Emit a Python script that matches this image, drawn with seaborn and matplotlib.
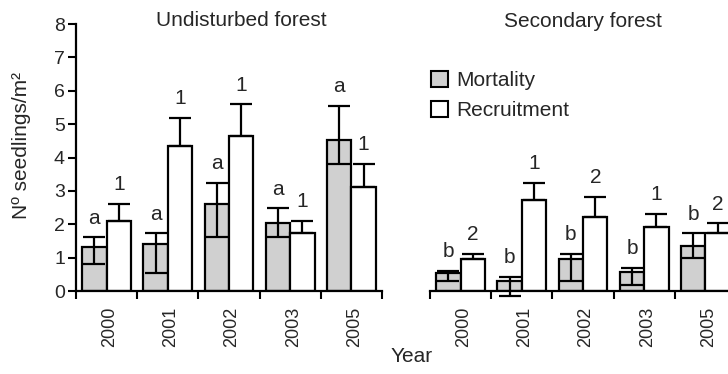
import numpy as np
import pandas as pd
import matplotlib
matplotlib.use("Agg")
import matplotlib.pyplot as plt
import seaborn as sns
from matplotlib.patches import Patch

# ---------------------------------------------------------------
# Data
# ---------------------------------------------------------------
years = ["2000", "2001", "2002", "2003", "2005"]
types = ["Mortality", "Recruitment"]

# Undisturbed forest
und_mort = [1.33, 1.40, 2.61, 2.03, 4.51]
und_mort_hi = [1.61, 1.73, 3.25, 2.48, 5.54]
und_mort_lo = [0.81, 0.53, 1.61, 1.61, 3.81]
und_recr = [2.10, 4.35, 4.63, 1.75, 3.11]
und_recr_hi = [2.61, 5.19, 5.59, 2.10, 3.81]
und_mort_letters = ["a", "a", "a", "a", "a"]
und_recr_letters = ["1", "1", "1", "1", "1"]

# Secondary forest
sec_mort = [0.53, 0.30, 0.95, 0.58, 1.35]
sec_mort_hi = [0.61, 0.43, 1.11, 0.70, 1.73]
sec_mort_lo = [0.31, -0.15, 0.30, 0.18, 1.00]
sec_recr = [0.95, 2.73, 2.21, 1.91, 1.75]
sec_recr_hi = [1.11, 3.25, 2.83, 2.31, 2.03]
sec_mort_letters = ["b", "b", "b", "b", "b"]
sec_recr_letters = ["2", "1", "2", "1", "2"]

GREY = "#d0d0d0"
palette = {"Mortality": GREY, "Recruitment": "white"}

sns.set_theme(style="ticks")
plt.rcParams["font.family"] = ["Liberation Sans", "DejaVu Sans"]


def make_df(mort, recr):
    return pd.DataFrame({
        "Year": years * 2,
        "Type": ["Mortality"] * len(years) + ["Recruitment"] * len(years),
        "Value": list(mort) + list(recr),
    })


def draw_panel(ax, mort, mort_lo, mort_hi, recr, recr_hi, mlet, rlet, show_y):
    df = make_df(mort, recr)
    sns.barplot(data=df, x="Year", y="Value", hue="Type", order=years,
                hue_order=types, palette=palette, edgecolor="black",
                linewidth=1.6, errorbar=None, width=0.8, legend=False,
                ax=ax, zorder=2)

    for cont, vals, lo, hi, letters in [
        (ax.containers[0], mort, mort_lo, mort_hi, mlet),
        (ax.containers[1], recr, None, recr_hi, rlet),
    ]:
        xs = np.array([p.get_x() + p.get_width() / 2 for p in cont])
        vals = np.array(vals)
        hi = np.array(hi)
        low_err = np.zeros_like(vals) if lo is None else vals - np.array(lo)
        eb = ax.errorbar(xs, vals, yerr=[low_err, hi - vals], fmt="none",
                         ecolor="black", elinewidth=1.6, capsize=8,
                         capthick=1.6, zorder=3)
        for art in list(eb.lines[1]) + list(eb.lines[2]):
            art.set_clip_on(False)
        for x, h, t in zip(xs, hi, letters):
            ax.annotate(t, (x, h), xytext=(0, 7), textcoords="offset points",
                        ha="center", va="bottom", fontsize=15,
                        annotation_clip=False)

    ax.set_xlim(-0.5, len(years) - 0.5)
    ax.set_ylim(0, 8)
    ax.set_xlabel("")
    ax.set_ylabel("")

    # ticks between groups, labels at group centres
    ax.set_xticks(np.arange(len(years) + 1) - 0.5)
    ax.set_xticklabels([])
    ax.set_xticks(np.arange(len(years)) + 0.05, minor=True)
    ax.set_xticklabels(years, minor=True, rotation=90, fontsize=13)
    ax.tick_params(axis="x", which="major", length=6, width=1.5,
                   direction="out", color="black")
    ax.tick_params(axis="x", which="minor", length=0, pad=11)

    for s in ["top", "right"]:
        ax.spines[s].set_visible(False)
    ax.spines["bottom"].set_linewidth(1.6)
    ax.spines["bottom"].set_color("black")

    if show_y:
        ax.set_yticks(range(0, 9))
        ax.tick_params(axis="y", length=6, width=1.5, labelsize=14,
                       color="black", pad=2)
        ax.spines["left"].set_linewidth(1.6)
        ax.spines["left"].set_color("black")
    else:
        ax.spines["left"].set_visible(False)
        ax.set_yticks([])


fig = plt.figure(figsize=(7.28, 3.74), dpi=100)
ax1 = fig.add_axes([0.1044, 0.2219, 0.4203, 0.7139])
ax2 = fig.add_axes([0.5907, 0.2219, 0.4203, 0.7139])

draw_panel(ax1, und_mort, und_mort_lo, und_mort_hi, und_recr, und_recr_hi,
           und_mort_letters, und_recr_letters, True)
draw_panel(ax2, sec_mort, sec_mort_lo, sec_mort_hi, sec_recr, sec_recr_hi,
           sec_mort_letters, sec_recr_letters, False)

fig.text(0.332, 0.944, "Undisturbed forest", ha="center", va="center",
         fontsize=15)
fig.text(0.801, 0.942, "Secondary forest", ha="center", va="center",
         fontsize=15)
fig.text(0.030, 0.61, "Nº seedlings/m²", rotation=90, ha="center",
         va="center", fontsize=15)
fig.text(0.566, 0.047, "Year", ha="center", va="center", fontsize=15)

handles = [Patch(facecolor=palette[t], edgecolor="black", linewidth=1.5,
                 label=t) for t in types]
fig.legend(handles=handles, loc="upper left",
           bbox_to_anchor=(0.592, 1 - 71 / 374), frameon=False, fontsize=15,
           handlelength=0.8, handleheight=0.8, handletextpad=0.4,
           labelspacing=0.5, borderaxespad=0, borderpad=0)

fig.savefig("out.png", dpi=100)
